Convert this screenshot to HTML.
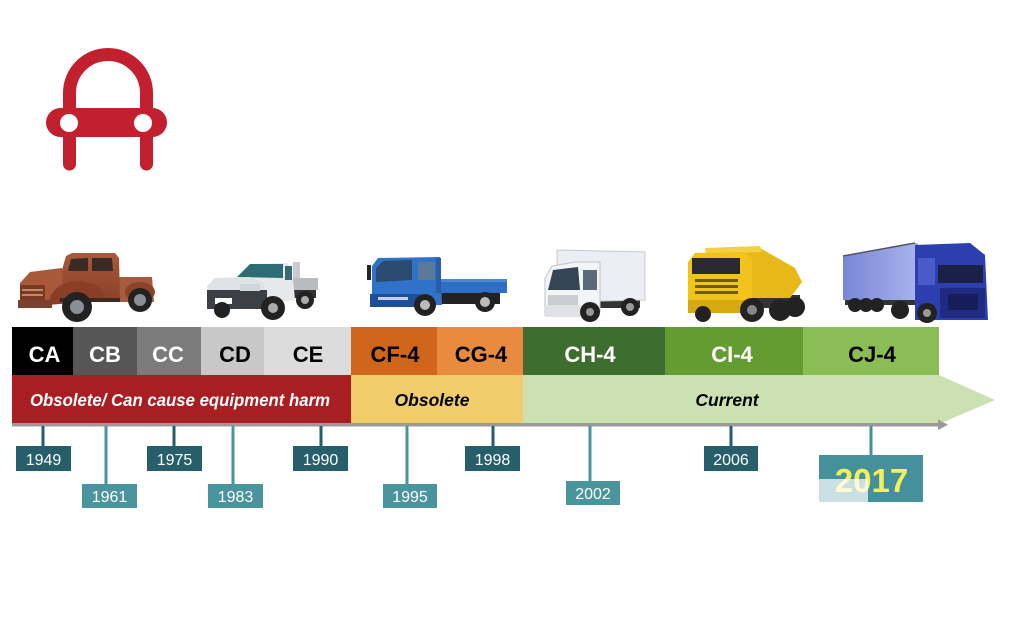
<!DOCTYPE html>
<html><head><meta charset="utf-8"><style>
html,body{margin:0;padding:0;background:#fff;width:1024px;height:640px;overflow:hidden}
svg{display:block}
text{font-family:"Liberation Sans",Arial,sans-serif}
</style></head><body>
<svg width="1024" height="640" viewBox="0 0 1024 640" xmlns="http://www.w3.org/2000/svg">
<defs>
<linearGradient id="trl" x1="0" y1="0" x2="1" y2="0"><stop offset="0" stop-color="#7886d6"/><stop offset="1" stop-color="#a9b4ec"/></linearGradient>
<linearGradient id="rust" x1="0" y1="0" x2="0" y2="1"><stop offset="0" stop-color="#a85a3c"/><stop offset="1" stop-color="#8a4028"/></linearGradient>
</defs>

<!-- Logo -->
<g fill="none" stroke="#c2202f" stroke-width="13" stroke-linecap="round">
<path d="M69.5 164 V93 A38.5 38.5 0 0 1 146.5 93 V164"/>
</g>
<rect x="46" y="108" width="121" height="29" rx="14.5" fill="#c2202f"/>
<circle cx="69" cy="123" r="9" fill="#fff"/>
<circle cx="143" cy="123" r="9" fill="#fff"/>

<!-- Truck 1 rusty pickup -->
<g>
<polygon points="118,277 152,277 154,302 118,302" fill="#a65c3c"/>
<ellipse cx="140" cy="292" rx="15" ry="10" fill="#8c4428"/>
<polygon points="62,270 66,256 72,253 115,253 119,258 120,300 62,300" fill="url(#rust)"/>
<polygon points="71,259 88,258 88,271 68,271" fill="#3a2a25"/>
<polygon points="92,258 112,258 113,271 92,271" fill="#3a2a25"/>
<polygon points="20,283 30,272 62,268 64,300 20,305" fill="#a9583a"/>
<path d="M48 305 Q52 282 78 281 Q102 282 106 300 Z" fill="#8a3e26"/>
<rect x="20" y="285" width="25" height="18" fill="#7a3a22"/>
<rect x="22" y="289" width="21" height="2" fill="#c08a70"/>
<rect x="22" y="294" width="21" height="2" fill="#c08a70"/>
<rect x="18" y="300" width="34" height="8" fill="#7b4030"/>
<rect x="60" y="298" width="60" height="4" fill="#3a2a22"/>
<circle cx="77" cy="307" r="15" fill="#222"/>
<circle cx="77" cy="307" r="7" fill="#8a8f95"/>
<circle cx="140" cy="300" r="12" fill="#222"/>
<circle cx="140" cy="300" r="6" fill="#8a8f95"/>
</g>

<!-- Truck 2 white pickup -->
<g>
<rect x="290" y="289" width="26" height="9" fill="#333"/>
<rect x="293" y="262" width="7" height="28" fill="#c8cbcf"/>
<polygon points="285,278 318,278 318,290 285,290" fill="#b8bcc0"/>
<polygon points="240,277 250,264 287,263 292,268 295,300 255,305 240,300" fill="#e6e8eb"/>
<polygon points="237,277 250,264 283,264 283,278" fill="#2d6c74"/>
<rect x="285" y="266" width="7" height="14" fill="#3a6a70"/>
<polygon points="207,286 215,278 250,277 264,283 268,307 210,308" fill="#dfe2e5"/>
<rect x="207" y="290" width="60" height="19" fill="#3c4044"/>
<rect x="240" y="284" width="20" height="7" fill="#cfd6dc"/>
<rect x="215" y="298" width="17" height="6" fill="#fff"/>
<circle cx="222" cy="310" r="8" fill="#222"/>
<circle cx="273" cy="308" r="12" fill="#222"/>
<circle cx="273" cy="308" r="5" fill="#aaa"/>
<circle cx="305" cy="300" r="9" fill="#222"/>
<circle cx="305" cy="300" r="4" fill="#aaa"/>
</g>

<!-- Truck 3 blue flatbed -->
<g>
<rect x="440" y="292" width="60" height="12" fill="#222"/>
<rect x="440" y="279" width="67" height="14" fill="#2e6ec4"/>
<rect x="440" y="279" width="67" height="3" fill="#4a88d6"/>
<polygon points="372,266 378,258 440,257 442,305 372,307" fill="#2f72c8"/>
<polygon points="376,268 383,261 412,260 412,280 376,282" fill="#2a4a70"/>
<rect x="418" y="262" width="17" height="18" fill="#5a7a9a"/>
<rect x="436" y="258" width="5" height="35" fill="#2a5fa8"/>
<rect x="370" y="294" width="50" height="13" fill="#1e4f9a"/>
<rect x="378" y="297" width="30" height="3" fill="#c8d0d8"/>
<rect x="367" y="265" width="4" height="15" fill="#223"/>
<circle cx="425" cy="305" r="11" fill="#222"/>
<circle cx="425" cy="305" r="5" fill="#bbb"/>
<circle cx="485" cy="302" r="10" fill="#222"/>
<circle cx="485" cy="302" r="5" fill="#bbb"/>
</g>

<!-- Truck 4 white box truck -->
<g>
<rect x="598" y="299" width="42" height="9" fill="#333"/>
<polygon points="557,250 645,252 645,300 557,302" fill="#eceef3" stroke="#c4c8d0" stroke-width="1"/>
<polygon points="545,278 552,266 575,262 600,262 600,312 545,315" fill="#f3f4f6" stroke="#bfc3c8" stroke-width="1"/>
<polygon points="548,290 553,270 578,267 580,290" fill="#354555"/>
<rect x="583" y="270" width="14" height="20" fill="#5a6a78"/>
<rect x="548" y="295" width="30" height="10" fill="#c9ccd0"/>
<rect x="545" y="305" width="35" height="12" fill="#dfe1e4"/>
<circle cx="590" cy="312" r="10" fill="#222"/>
<circle cx="590" cy="312" r="4" fill="#999"/>
<circle cx="630" cy="307" r="9" fill="#222"/>
<circle cx="630" cy="307" r="4" fill="#999"/>
</g>

<!-- Truck 5 yellow dump -->
<g>
<rect x="745" y="295" width="55" height="13" fill="#333"/>
<polygon points="705,250 760,248 795,268 802,282 790,298 740,298 740,262" fill="#e8b818"/>
<polygon points="705,248 760,246 762,252 706,254" fill="#f5d040"/>
<polygon points="688,262 695,253 745,252 752,258 752,310 688,310" fill="#f2c21e"/>
<rect x="692" y="258" width="48" height="16" fill="#2a2a30"/>
<rect x="695" y="279" width="43" height="3" fill="#6a5a20"/>
<rect x="695" y="285" width="43" height="3" fill="#6a5a20"/>
<rect x="695" y="291" width="43" height="3" fill="#6a5a20"/>
<rect x="688" y="300" width="57" height="13" fill="#d8a810"/>
<circle cx="703" cy="314" r="8" fill="#222"/>
<circle cx="752" cy="310" r="12" fill="#222"/>
<circle cx="752" cy="310" r="5" fill="#888"/>
<circle cx="780" cy="310" r="11" fill="#222"/>
<circle cx="795" cy="307" r="10" fill="#222"/>
</g>

<!-- Truck 6 blue semi -->
<g>
<rect x="845" y="298" width="70" height="7" fill="#333"/>
<polygon points="843,256 915,243 918,243 918,300 843,300" fill="url(#trl)"/>
<line x1="843" y1="256" x2="915" y2="243" stroke="#556" stroke-width="1.5"/>
<circle cx="855" cy="305" r="7" fill="#222"/>
<circle cx="866" cy="305" r="7" fill="#222"/>
<circle cx="877" cy="305" r="7" fill="#222"/>
<polygon points="915,245 970,243 985,255 988,320 915,320" fill="#2d3fae"/>
<rect x="918" y="258" width="17" height="27" fill="#4a5ac8"/>
<rect x="938" y="265" width="45" height="18" fill="#1a2048"/>
<rect x="940" y="288" width="45" height="30" fill="#1f2a80"/>
<rect x="948" y="294" width="30" height="16" fill="#161d5a"/>
<circle cx="900" cy="310" r="9" fill="#222"/>
<circle cx="927" cy="313" r="10" fill="#222"/>
<circle cx="927" cy="313" r="4" fill="#999"/>
</g>

<!-- Top category row -->
<rect x="12" y="327" width="61" height="48" fill="#000"/>
<rect x="73" y="327" width="64" height="48" fill="#565656"/>
<rect x="137" y="327" width="64" height="48" fill="#7b7b7b"/>
<rect x="201" y="327" width="63" height="48" fill="#c8c8c8"/>
<rect x="264" y="327" width="87" height="48" fill="#dcdcdc"/>
<rect x="351" y="327" width="86" height="48" fill="#d0661c"/>
<rect x="437" y="327" width="86" height="48" fill="#e88b3e"/>
<rect x="523" y="327" width="142" height="48" fill="#3e6e2f"/>
<rect x="665" y="327" width="138" height="48" fill="#659c32"/>
<rect x="803" y="327" width="136" height="48" fill="#8abd56"/>

<g font-size="22" font-weight="bold" text-anchor="middle">
<text x="44.5" y="362" fill="#fff">CA</text>
<text x="105" y="362" fill="#fff">CB</text>
<text x="168" y="362" fill="#fff">CC</text>
<text x="235" y="362" fill="#000">CD</text>
<text x="308" y="362" fill="#000">CE</text>
<text x="395" y="362" fill="#000">CF-4</text>
<text x="481" y="362" fill="#000">CG-4</text>
<text x="590" y="362" fill="#fff">CH-4</text>
<text x="732" y="362" fill="#fff">CI-4</text>
<text x="872" y="362" fill="#000">CJ-4</text>
</g>

<!-- Second row bands -->
<rect x="12" y="375" width="339" height="48" fill="#a81e23"/>
<rect x="351" y="375" width="172" height="48" fill="#f0cc6a"/>
<polygon points="523,375 939,375 995,400 939,424 523,424" fill="#cce1b2"/>

<g font-size="17.5" font-weight="bold" font-style="italic" text-anchor="middle">
<text x="180" y="406" fill="#fff" textLength="300" lengthAdjust="spacingAndGlyphs">Obsolete/ Can cause equipment harm</text>
<text x="432" y="406" fill="#000">Obsolete</text>
<text x="727" y="406" fill="#000">Current</text>
</g>

<!-- Axis -->
<rect x="12" y="423" width="928" height="3.5" fill="#9a9a9a"/>
<polygon points="938,419.5 948,424.7 938,430" fill="#9a9a9a"/>

<!-- Stems -->
<g stroke-width="3">
<line x1="43" y1="426" x2="43" y2="446" stroke="#265e6b"/>
<line x1="106" y1="426" x2="106" y2="484" stroke="#4a949e"/>
<line x1="174" y1="426" x2="174" y2="446" stroke="#265e6b"/>
<line x1="233" y1="426" x2="233" y2="484" stroke="#4a949e"/>
<line x1="321" y1="426" x2="321" y2="446" stroke="#265e6b"/>
<line x1="407" y1="426" x2="407" y2="484" stroke="#4a949e"/>
<line x1="493" y1="426" x2="493" y2="446" stroke="#265e6b"/>
<line x1="590" y1="426" x2="590" y2="481" stroke="#4a949e"/>
<line x1="731" y1="426" x2="731" y2="446" stroke="#265e6b"/>
<line x1="871" y1="426" x2="871" y2="455" stroke="#45919b"/>
</g>

<!-- Year boxes -->
<g fill="#265e6b">
<rect x="16" y="446" width="55" height="25"/>
<rect x="147" y="446" width="55" height="25"/>
<rect x="293" y="446" width="55" height="25"/>
<rect x="465" y="446" width="55" height="25"/>
<rect x="704" y="446" width="54" height="25"/>
</g>
<g fill="#4a949e">
<rect x="82" y="484" width="55" height="24"/>
<rect x="208" y="484" width="55" height="24"/>
<rect x="383" y="484" width="54" height="24"/>
<rect x="566" y="481" width="54" height="24"/>
</g>
<g font-size="16" fill="#fff" text-anchor="middle">
<text x="43.5" y="465">1949</text>
<text x="174.5" y="465">1975</text>
<text x="320.5" y="465">1990</text>
<text x="492.5" y="465">1998</text>
<text x="731" y="465">2006</text>
<text x="109.5" y="502">1961</text>
<text x="235.5" y="502">1983</text>
<text x="410" y="502">1995</text>
<text x="593" y="499">2002</text>
</g>

<!-- 2017 -->
<rect x="819" y="455" width="104" height="47" fill="#45919b"/>
<text x="871.5" y="492" font-size="33" font-weight="bold" fill="#f4ef5a" text-anchor="middle">2017</text>
<rect x="819" y="479" width="49" height="23" fill="#ffffff" fill-opacity="0.72"/>
</svg>
</body></html>
